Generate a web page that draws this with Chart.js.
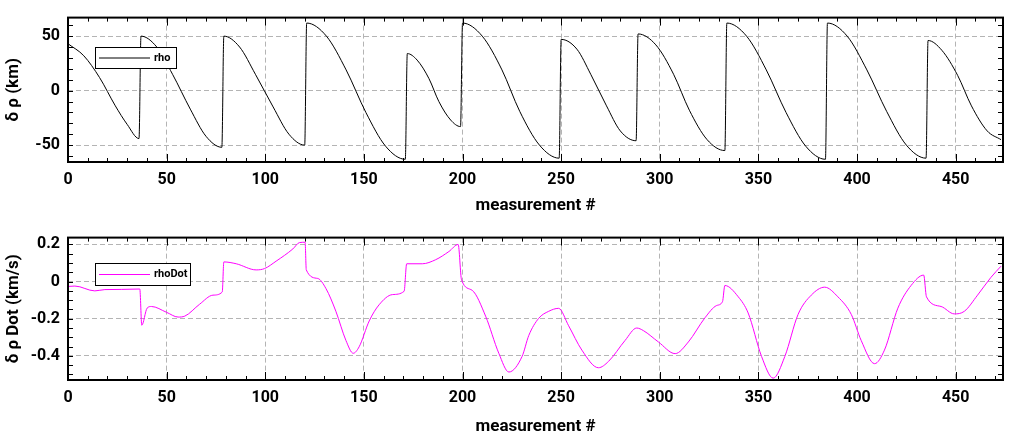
<!DOCTYPE html>
<html>
<head>
<meta charset="utf-8">
<script src="https://cdn.jsdelivr.net/npm/chart.js@4"></script>
<style>
body{margin:0;background:#fff;width:1024px;height:441px;overflow:hidden}
.box{position:absolute;left:0;width:1024px}
</style>
</head>
<body>
<div class="box" style="top:0;height:220px"><canvas id="c1"></canvas></div>
<div class="box" style="top:220px;height:221px"><canvas id="c2"></canvas></div>
<script>
// values
const rhoX = [0,8,16,24,30,36, 37,45,53,62,70,78, 79,87,95,104,112,120, 121,131,141,151,161,171,
  172,177,183,188,194,199, 200,210,220,229,239,249, 250,258,265,273,280,288, 289,298,307,315,324,333,
  334,344,354,364,374,384, 385,395,405,415,425,435, 436,443,451,458,466,473]
const rhoY = [43,32,12,-14,-31,-44, 50,40,15,-17,-42,-52, 50,40,15,-15,-40,-50, 62,50,19,-20,-51,-63,
  34,28,11,-10,-27,-33, 62,50,19,-19,-50,-62, 47,38,15,-14,-37,-46, 52,42,15,-18,-45,-55,
  62,50,19,-20,-51,-63, 62,50,19,-19,-50,-62, 46,37,14,-14,-37,-45]
const dotX = [0,3.5,13.6,18.7,27,36.4,37.4,40.1,42.3,49.9,55.8,59.2,66.7,73.5,78.2,
  79,85.3,95.4,99.6,105.5,114,117.3,120.2,120.8,126.6,130.8,135.8,140.9,144.6,147.6,152.7,157.7,164.5,170.4,
  171.7,179.6,186.4,193.1,197.8,199.5,204.9,211.7,218.4,223.5,230.2,233.6,238.6,243.7,248.7,
  253.8,260.5,268.9,274,282.4,288.3,291.7,299.3,307.8,314.5,322.9,328.8,331.8,
  333,339.8,344.8,351.6,357.5,363.4,370.1,376.8,383.6,390.3,397.1,402.1,408.9,413.9,420.7,427.4,433.8,
  435.2,442.6,449.3,454.4,461.1,467.9,473]
const dotY = [-0.026,-0.024,-0.05,-0.043,-0.042,-0.04,-0.235,-0.143,-0.134,-0.165,-0.191,-0.186,-0.122,-0.073,-0.056,
  0.106,0.096,0.063,0.07,0.11,0.176,0.21,0.212,0.063,0.017,-0.038,-0.16,-0.317,-0.386,-0.351,-0.212,-0.125,-0.07,-0.052,
  0.096,0.096,0.118,0.162,0.2,0.01,-0.047,-0.186,-0.386,-0.487,-0.403,-0.29,-0.198,-0.16,-0.144,
  -0.238,-0.369,-0.464,-0.43,-0.317,-0.25,-0.264,-0.325,-0.388,-0.325,-0.195,-0.129,-0.108,
  -0.021,-0.082,-0.169,-0.403,-0.52,-0.403,-0.177,-0.073,-0.03,-0.082,-0.177,-0.317,-0.442,-0.369,-0.143,-0.021,0.035,
  -0.082,-0.134,-0.174,-0.16,-0.073,0.023,0.083]
const xTicks = [0,50,100,150,200,250,300,350,400,450]
const rhoTicks = [-50,0,50]
const dotTicks = [-0.4,-0.2,0,0.2]

const font = {family:'Roboto', size:16, weight:'bold'}
const titleFont = {family:'Roboto', size:17, weight:'bold'}

function frame(minorX, minorY, legendName, legendColor, lbox){
  return {
    id:'frame',
    afterDraw(c){
      const ctx=c.ctx, a=c.chartArea, x=c.scales.x, y=c.scales.y
      ctx.save()
      ctx.strokeStyle='#000'; ctx.lineWidth=1
      for(let v=x.min; v<=x.max; v+=minorX){
        const p=Math.round(x.getPixelForValue(v))+0.5
        const len = v%50===0 ? 8 : 4
        ctx.beginPath(); ctx.moveTo(p,a.bottom); ctx.lineTo(p,a.bottom-len)
        ctx.moveTo(p,a.top); ctx.lineTo(p,a.top+len); ctx.stroke()
      }
      const start=Math.ceil(y.min/minorY)*minorY
      for(let v=start; v<=y.max; v+=minorY){
        const p=Math.round(y.getPixelForValue(v))+0.5
        ctx.beginPath(); ctx.moveTo(a.left,p); ctx.lineTo(a.left+5,p)
        ctx.moveTo(a.right,p); ctx.lineTo(a.right-5,p); ctx.stroke()
      }
      ctx.lineWidth=2
      ctx.strokeRect(a.left,a.top,a.right-a.left,a.bottom-a.top)
      // legend box
      ctx.lineWidth=1
      ctx.fillStyle='#fff'
      ctx.fillRect(lbox[0],lbox[1],lbox[2],lbox[3])
      ctx.strokeStyle='#000'
      ctx.strokeRect(lbox[0]+0.5,lbox[1]+0.5,lbox[2],lbox[3])
      ctx.strokeStyle=legendColor
      const my=lbox[1]+lbox[3]/2+0.5
      ctx.beginPath(); ctx.moveTo(lbox[0]+4,my); ctx.lineTo(lbox[0]+55,my); ctx.stroke()
      ctx.fillStyle='#000'; ctx.font='bold 11px Roboto'; ctx.textBaseline='middle'
      ctx.fillText(legendName,lbox[0]+59,my)
      ctx.restore()
    }
  }
}

function makeChart(id, xs, ys, color, yTicks, ymin, ymax, ytitle, padTop, xh, minorY, lname, lbox, fmt){
  new Chart(document.getElementById(id), {
    type:'line',
    data:{datasets:[{data:xs.map((v,i)=>({x:v,y:ys[i]})), borderColor:color, borderWidth:1,
      pointRadius:0, cubicInterpolationMode:'monotone'}]},
    options:{
      responsive:true, maintainAspectRatio:false, animation:false,
      layout:{padding:{top:padTop,right:21,left:0,bottom:0}},
      plugins:{legend:{display:false},tooltip:{enabled:false}},
      scales:{
        x:{type:'linear', min:0, max:474,
          afterBuildTicks:s=>{s.ticks=xTicks.map(v=>({value:v}))},
          afterFit:s=>{s.height=xh},
          ticks:{font:font,color:'#000',maxRotation:0,padding:8},
          grid:{color:'#b4b4b4',drawTicks:false},
          border:{display:false,dash:[5,3]},
          title:{display:true,text:'measurement #',font:titleFont,color:'#000',padding:{top:4}}},
        y:{min:ymin, max:ymax,
          afterBuildTicks:s=>{s.ticks=yTicks.map(v=>({value:v}))},
          afterFit:s=>{s.width=68},
          ticks:{font:font,color:'#000',padding:8,callback:fmt},
          grid:{color:'#b4b4b4',drawTicks:false},
          border:{display:false,dash:[5,3]},
          title:{display:true,text:ytitle,font:titleFont,color:'#000',padding:{bottom:0}}}
      }
    },
    plugins:[frame(10, minorY, lname, color, lbox)]
  })
}

makeChart('c1', rhoX, rhoY, '#000', rhoTicks, -65.5, 67, 'δ ρ (km)', 16, 58, 10, 'rho', [95,47,81,21], v=>v)
makeChart('c2', dotX, dotY, '#ff00ff', dotTicks, -0.53, 0.237, 'δ ρ Dot (km/s)', 13, 61, 0.05, 'rhoDot', [95,43,95,22],
  v=>v===0?'0':v.toFixed(1))
</script>
</body>
</html>
